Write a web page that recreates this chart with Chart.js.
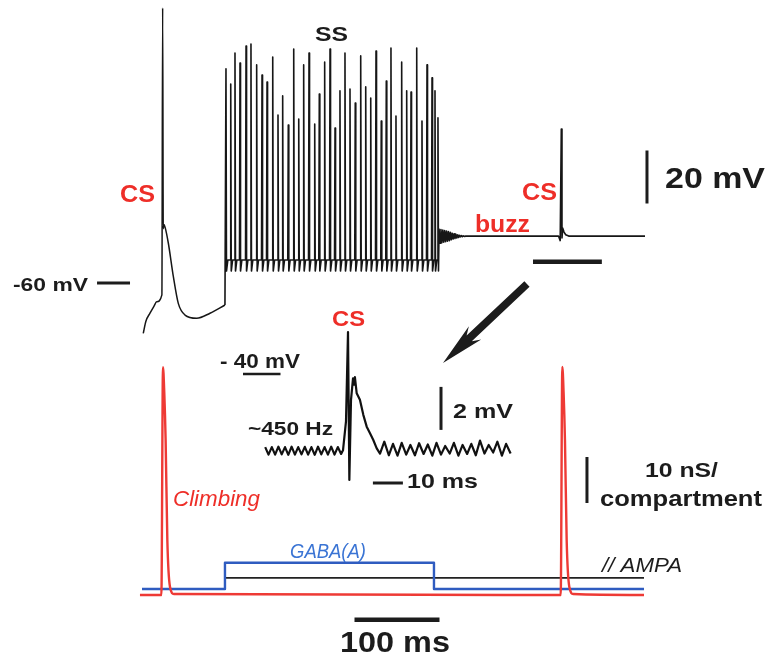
<!DOCTYPE html>
<html>
<head>
<meta charset="utf-8">
<script src="https://cdn.jsdelivr.net/npm/chart.js@4/dist/chart.umd.min.js"></script>
<style>
html, body { margin: 0; padding: 0; background: #fff; }
#wrap { width: 766px; height: 661px; position: relative; }
</style>
</head>
<body>
<div id="wrap"><canvas id="pcChart"></canvas></div>
<script>
// PURKINJE CELL TRACES

// somatic trace before the simple spikes (ms, mV)
const preT = [1.5, 4.5, 9.4, 14.0, 17.3, 23.4, 24.3, 25.0, 25.8, 27.2, 31.0, 36.9, 42.7, 50.6, 64.3, 80.0, 97.6];
const preV = [-79.0, -74.5, -71.4, -68.8, -67.1, -64.5, 43.8, -39.5, -37.9, -39.0, -45.0, -57.6, -67.7, -72.1, -73.3, -71.4, -68.3];

// simple spikes: times (ms) and peaks (mV)
const ssT = [98.8, 104.4, 109.4, 115.3, 122.4, 128.2, 134.9, 141.2, 147.1, 153.8, 160.0, 165.5, 172.1, 178.5, 184.4,
  190.2, 196.5, 203.2, 208.6, 214.9, 221.2, 227.1, 232.9, 238.8, 244.7, 250.9, 257.3, 263.2, 269.1, 275.3,
  281.5, 287.4, 292.9, 298.8, 305.5, 311.4, 316.5, 323.2, 329.4, 335.3, 341.2, 344.7, 348.2];
const ssPeak = [20.8, 15.1, 26.8, 23.0, 29.4, 30.2, 22.3, 18.5, 15.8, 25.3, 3.4, 10.6, -0.4, 28.3, 1.9,
  22.3, 26.8, 0.0, 11.3, 23.4, 28.3, -1.5, 12.5, 26.8, 13.2, 7.9, 25.7, 14.0, 9.8, 27.5,
  1.1, 16.2, 28.7, 3.0, 23.4, 12.5, 12.1, 28.7, 1.1, 22.3, 17.4, 12.5, 2.3];
const ssTrough = -55.5;
const ssPlateau = -51.3;

// buzz after the burst
const buzzT = [349.5, 350.6, 351.7, 352.8, 353.9, 355.0, 356.1, 357.2, 358.3, 359.4, 360.5, 361.6, 362.7, 363.8, 364.9,
  366.0, 367.1, 368.2, 369.3, 370.4, 371.5, 372.6, 373.7, 374.8, 375.9, 377.0, 378.1, 379.2, 381.0, 384.0];
const buzzV = [-39.6, -45.0, -39.8, -44.8, -40.0, -44.6, -40.2, -44.4, -40.4, -44.2, -40.6, -44.0, -40.9, -43.7, -41.2,
  -43.4, -41.4, -43.2, -41.6, -43.0, -41.8, -42.8, -42.0, -42.6, -42.1, -42.5, -42.2, -42.4, -42.3, -42.3];

// second complex spike
const cs2T = [490.0, 492.0, 493.3, 494.1, 495.0, 496.5, 498.5, 502.0, 591.8];
const cs2V = [-42.3, -44.0, -1.9, -43.0, -39.3, -40.8, -41.8, -42.3, -42.3];

// zoomed complex spike (ms from spike, mV)
const insetT = [-27.6, -26.5, -25.4, -24.3, -23.2, -22.1, -21.0, -19.9, -18.8, -17.7, -16.6, -15.5, -14.4, -13.3, -12.2,
  -11.1, -10.0, -8.9, -7.8, -6.7, -5.6, -4.5, -3.4, -2.3,
  -1.67, -0.67, 0, 0.45, 1.0, 1.67, 2.0, 2.3, 2.9, 3.97, 5.1, 6.23, 7.33, 8.43, 9.57, 10.67,
  12.1, 13.6, 15.0, 16.5, 17.9, 19.4, 20.8, 22.3, 23.7, 25.2, 26.6, 28.1, 29.5, 31.0, 32.4,
  33.9, 35.3, 36.8, 38.2, 39.7, 41.1, 42.6, 44.0, 45.5, 46.9, 48.4, 49.8, 51.3, 52.7, 54.2];
const insetV = [-43.4, -43.75, -43.4, -43.75, -43.38, -43.74, -43.4, -43.76, -43.38, -43.75, -43.4, -43.74, -43.39, -43.75, -43.4,
  -43.76, -43.38, -43.74, -43.4, -43.75, -43.38, -43.75, -43.4, -43.72,
  -43.55, -42.2, -38.05, -44.93, -41.2, -40.2, -40.5, -40.15, -40.9, -41.2, -41.9, -42.45, -42.76, -43.07, -43.46, -43.7,
  -43.15, -43.78, -43.25, -43.8, -43.2, -43.75, -43.3, -43.78, -43.22, -43.72, -43.28, -43.8, -43.2, -43.75, -43.35,
  -43.7, -43.2, -43.8, -43.3, -43.72, -43.25, -43.78, -43.1, -43.7, -43.3, -43.65, -43.15, -43.8, -43.25, -43.7];

// synaptic conductances (ms, nS)
const climbT = [-2.4, 22.8, 24.7, 26.2, 27.8, 29.8, 32.9, 37.6, 492.6, 494.5, 496.0, 497.6, 499.6, 502.7, 507.4, 590.6];
const climbG = [0, 0, 49.5, 44, 33.7, 12, 1.8, 0.2, 0, 49.6, 44, 33.7, 12, 1.8, 0.2, 0];
const gabaT = [0, 97.6, 97.6, 343.5, 343.5, 590.6];
const gabaG = [1.3, 1.3, 7.0, 7.0, 1.3, 1.3];
const ampaT = [0, 97.6, 97.6, 590.6];
const ampaG = [1.3, 1.3, 3.7, 3.7];


function pts(ts, vs) {
  return ts.map((t, i) => ({ x: t, y: vs[i] }));
}

// burst, buzz and second complex spike
const burst = [];
ssT.forEach((t, i) => {
  if (i > 0) burst.push({ x: t - 0.6, y: ssPlateau });
  else burst.push({ x: preT[preT.length - 1], y: preV[preV.length - 1] });
  burst.push({ x: t, y: ssPeak[i] });
  burst.push({ x: t + 0.6, y: ssTrough });
  if (i < ssT.length - 1) burst.push({ x: t + 2.2, y: ssPlateau });
});
burst.push(...pts(buzzT, buzzV), ...pts(cs2T, cs2V));


// scale bars, in axis units
const bars = [
  { xa: "x", ya: "y", x0: 594.1, x1: 594.1, y0: -10, y1: -30, w: 3 },      // 20 mV
  { xa: "x", ya: "y", x0: 460, x1: 541, y0: -52, y1: -52, w: 4.5 },        // zoom window
  { xa: "x", ya: "y", x0: -52.9, x1: -14.1, y0: -60, y1: -60, w: 3 },      // -60 mV
  { xa: "xI", ya: "yI", x0: -35, x1: -22.5, y0: -40, y1: -40, w: 2.5 },    // -40 mV
  { xa: "xI", ya: "yI", x0: 31, x1: 31, y0: -40.6, y1: -42.6, w: 3 },      // 2 mV
  { xa: "xI", ya: "yI", x0: 8.3, x1: 18.3, y0: -45.07, y1: -45.07, w: 3 }, // 10 ms
  { xa: "x", ya: "yG", x0: 523.5, x1: 523.5, y0: 20, y1: 30, w: 3 },       // 10 nS
  { xa: "x", ya: "yG", x0: 250, x1: 350, y0: -5.4, y1: -5.4, w: 4.5 }      // 100 ms
];

const RED = "#ee2e28";
const INK = "#1c1c1c";

const labels = [
  { t: "SS", x: 331.5, y: 41, f: "bold 20px", w: 33, c: INK },
  { t: "CS", x: 137.5, y: 202, f: "bold 23px", w: 35, c: RED },
  { t: "CS", x: 539.5, y: 200, f: "bold 23px", w: 35, c: RED },
  { t: "buzz", x: 502.5, y: 232, f: "bold 23px", w: 55, c: RED },
  { t: "20 mV", x: 715, y: 188, f: "bold 29px", w: 100, c: INK },
  { t: "-60 mV", x: 50.5, y: 291, f: "bold 19px", w: 75, c: INK },
  { t: "CS", x: 348.5, y: 326, f: "bold 22px", w: 33, c: RED },
  { t: "- 40 mV", x: 260, y: 368, f: "bold 20px", w: 80, c: INK },
  { t: "~450 Hz", x: 290.5, y: 435, f: "bold 18px", w: 85, c: INK },
  { t: "2 mV", x: 483, y: 418, f: "bold 21px", w: 60, c: INK },
  { t: "10 ms", x: 442.5, y: 488, f: "bold 21px", w: 71, c: INK },
  { t: "Climbing", x: 216.5, y: 506, f: "italic 22px", w: 87, c: RED },
  { t: "GABA(A)", x: 328, y: 558, f: "italic 20px", w: 76, c: "#3a74d4" },
  { t: "// AMPA", x: 642, y: 572, f: "italic 21px", w: 80, c: INK },
  { t: "10 nS/", x: 681.5, y: 477, f: "bold 21px", w: 73, c: INK },
  { t: "compartment", x: 681, y: 506, f: "bold 22px", w: 162, c: INK },
  { t: "100 ms", x: 395, y: 652, f: "bold 30px", w: 110, c: INK }
];

// arrow from the somatic trace down to the zoomed spike
const arrow = { t0: 452.9, v0: -60.4, t1: 354.1, v1: -90.2 };


// BARS, ARROW AND TEXT
const overlay = {
  id: "overlay",
  afterDatasetsDraw(chart) {
    const ctx = chart.ctx;
    const s = chart.scales;
    ctx.save();

    ctx.strokeStyle = INK;
    ctx.lineCap = "butt";
    bars.forEach(b => {
      ctx.lineWidth = b.w;
      ctx.beginPath();
      ctx.moveTo(s[b.xa].getPixelForValue(b.x0), s[b.ya].getPixelForValue(b.y0));
      ctx.lineTo(s[b.xa].getPixelForValue(b.x1), s[b.ya].getPixelForValue(b.y1));
      ctx.stroke();
    });

    const ax0 = s.x.getPixelForValue(arrow.t0), ay0 = s.y.getPixelForValue(arrow.v0);
    const ax1 = s.x.getPixelForValue(arrow.t1), ay1 = s.y.getPixelForValue(arrow.v1);
    const len = Math.hypot(ax1 - ax0, ay1 - ay0);
    const ux = (ax1 - ax0) / len, uy = (ay1 - ay0) / len;
    const nx = -uy, ny = ux;
    const head = 44, hw = 9, sw = 3.8;
    const bx = ax1 - ux * head, by = ay1 - uy * head;
    ctx.fillStyle = INK;
    ctx.beginPath();
    ctx.moveTo(ax0 + nx * sw, ay0 + ny * sw);
    ctx.lineTo(bx + nx * sw + ux * 8, by + ny * sw + uy * 8);
    ctx.lineTo(bx + nx * hw, by + ny * hw);
    ctx.lineTo(ax1, ay1);
    ctx.lineTo(bx - nx * hw, by - ny * hw);
    ctx.lineTo(bx - nx * sw + ux * 8, by - ny * sw + uy * 8);
    ctx.lineTo(ax0 - nx * sw, ay0 - ny * sw);
    ctx.closePath();
    ctx.fill();

    ctx.textAlign = "center";
    ctx.textBaseline = "alphabetic";
    labels.forEach(l => {
      ctx.font = l.f + ' "Liberation Sans", Arial, sans-serif';
      const mw = ctx.measureText(l.t).width;
      ctx.save();
      ctx.translate(l.x, l.y);
      ctx.scale(l.w / mw, 1);
      ctx.fillStyle = l.c;
      ctx.fillText(l.t, 0, 0);
      ctx.restore();
    });

    ctx.restore();
  }
};


const ctx = document.getElementById("pcChart").getContext("2d");

// first dataset ends up on top
const chart = new Chart(ctx, {
  type: "line",
  data: {
    datasets: [
      { label: "CS zoom", data: pts(insetT, insetV), xAxisID: "xI", yAxisID: "yI", borderColor: "#111", borderWidth: 2.2 },
      { label: "Soma", data: burst, xAxisID: "x", yAxisID: "y", borderColor: "#161616", borderWidth: 1.6 },
      // complex spike and its after-hyperpolarisation, smoothed
      { label: "Soma CS", data: pts(preT, preV), xAxisID: "x", yAxisID: "y", borderColor: "#161616", borderWidth: 1.5,
        cubicInterpolationMode: "monotone" },
      { label: "Climbing", data: pts(climbT, climbG), xAxisID: "x", yAxisID: "yG", borderColor: "#ee3a35", borderWidth: 2.4,
        cubicInterpolationMode: "monotone" },
      { label: "GABA(A)", data: pts(gabaT, gabaG), xAxisID: "x", yAxisID: "yG", borderColor: "#2f5cc0", borderWidth: 2.4 },
      { label: "AMPA", data: pts(ampaT, ampaG), xAxisID: "x", yAxisID: "yG", borderColor: "#222", borderWidth: 1.8 }
    ]
  },
  options: {
    responsive: true,
    maintainAspectRatio: false,
    animation: false,
    layout: { padding: 0 },
    elements: {
      point: { radius: 0 },
      line: { tension: 0, borderJoinStyle: "round", fill: false }
    },
    plugins: {
      legend: { display: false },
      tooltip: { enabled: false }
    },
    scales: {
      x: { type: "linear", axis: "x", display: false, min: -167.06, max: 734.12 },
      xI: { type: "linear", axis: "x", display: false, min: -116, max: 139.33 },
      y: { type: "linear", axis: "y", display: false, min: -202.64, max: 46.79 },
      yI: { type: "linear", axis: "y", display: false, min: -53.349, max: -22.605 },
      yG: { type: "linear", axis: "y", display: false, min: -14.35, max: 129.35 }
    }
  },
  plugins: [overlay]
});
</script>
</body>
</html>
